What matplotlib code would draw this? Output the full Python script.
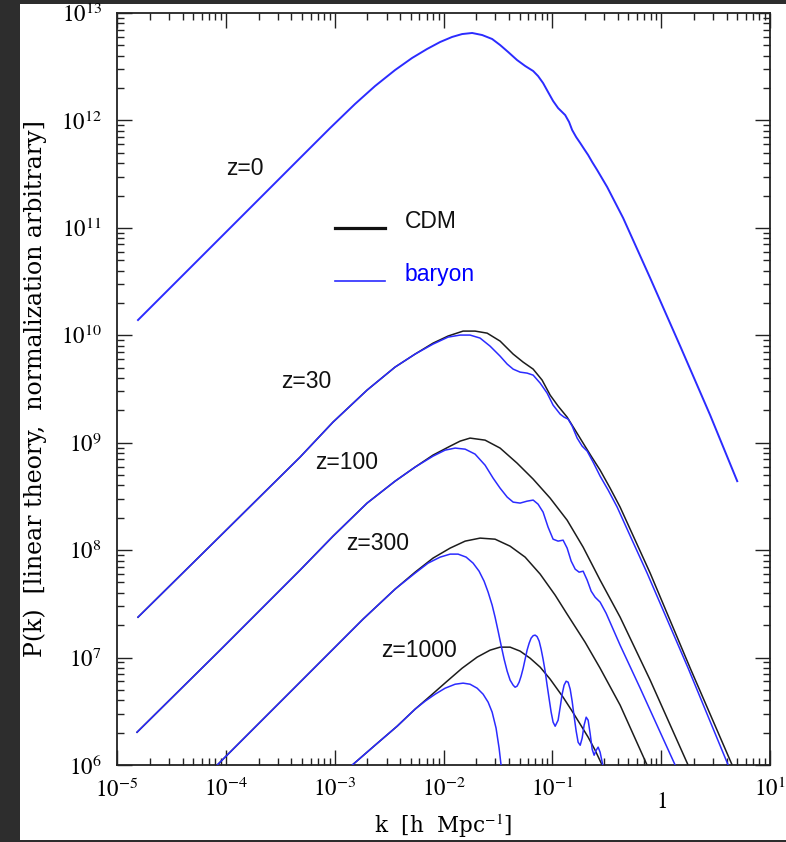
import numpy as np
import matplotlib
matplotlib.use("Agg")
import matplotlib.pyplot as plt
from matplotlib.lines import Line2D
from matplotlib.patches import Rectangle
import matplotlib.transforms as mtransforms
from matplotlib.ticker import LogLocator, NullFormatter

plt.rcParams["mathtext.fontset"] = "stix"

# ---------------- data (log10 k [h/Mpc], log10 P) ----------------
# z = 0 (CDM and baryon coincide)
z0_logk = [-4.807, -4.237, -3.686, -3.318, -3.042, -2.813, -2.629, -2.445, -2.289, -2.151,
           -2.031, -1.921, -1.829, -1.737, -1.645, -1.553, -1.480, -1.406, -1.324, -1.250,
           -1.176, -1.131, -1.085, -1.039, -0.993, -0.947, -0.882, -0.846, -0.818, -0.781,
           -0.744, -0.708, -0.671, -0.634, -0.588, -0.496, -0.349, -0.101, 0.175, 0.450, 0.699]
z0_logP = [10.142, 10.719, 11.277, 11.650, 11.929, 12.153, 12.320, 12.469, 12.581, 12.665,
           12.730, 12.777, 12.804, 12.814, 12.795, 12.758, 12.702, 12.637, 12.562, 12.507,
           12.460, 12.413, 12.348, 12.264, 12.181, 12.115, 12.050, 11.985, 11.911, 11.845,
           11.790, 11.734, 11.678, 11.613, 11.538, 11.380, 11.091, 10.533, 9.899, 9.257, 8.642]

# z = 30
z30_cdm_logk = [-4.807, -4.053, -3.318, -3.015, -2.702, -2.445, -2.261, -2.096, -1.958, -1.820,
                -1.710, -1.599, -1.480, -1.360, -1.268, -1.176, -1.094, -1.020, -0.947, -0.864,
                -0.790, -0.717, -0.643, -0.561, -0.469, -0.377, -0.239, -0.101, 0.267, 0.653, 0.772]
z30_cdm_logP = [7.376, 8.130, 8.866, 9.192, 9.490, 9.704, 9.825, 9.927, 9.993, 10.039,
                10.039, 10.020, 9.946, 9.825, 9.750, 9.685, 9.583, 9.443, 9.341, 9.238,
                9.117, 8.996, 8.875, 8.745, 8.577, 8.400, 8.093, 7.786, 6.901, 5.998, 5.719]
z30_bar_logk = [-4.807, -4.053, -3.318, -3.015, -2.702, -2.445, -2.261, -2.096, -1.958, -1.847,
                -1.756, -1.664, -1.572, -1.480, -1.415, -1.360, -1.296, -1.232, -1.176, -1.112,
                -1.048, -0.993, -0.928, -0.892, -0.855, -0.818, -0.772, -0.726, -0.680, -0.625,
                -0.561, -0.487, -0.404, -0.267, -0.129, 0.248, 0.616, 0.735]
z30_bar_logP = [7.376, 8.130, 8.866, 9.192, 9.490, 9.704, 9.825, 9.918, 9.983, 10.002,
                10.002, 9.974, 9.899, 9.806, 9.732, 9.685, 9.657, 9.648, 9.629, 9.555,
                9.462, 9.350, 9.266, 9.238, 9.220, 9.155, 9.043, 8.968, 8.922, 8.819,
                8.689, 8.559, 8.400, 8.093, 7.786, 6.901, 5.998, 5.719]

# z = 100
z100_cdm_logk = [-4.816, -4.053, -3.318, -3.015, -2.702, -2.445, -2.261, -2.096, -1.939, -1.847,
                 -1.756, -1.618, -1.480, -1.324, -1.176, -1.020, -0.864, -0.717, -0.561, -0.377,
                 -0.101, 0.248, 0.358]
z100_cdm_logP = [6.305, 7.069, 7.814, 8.130, 8.438, 8.642, 8.773, 8.885, 8.968, 9.015,
                 9.043, 9.024, 8.950, 8.810, 8.661, 8.484, 8.279, 8.028, 7.721, 7.376,
                 6.790, 5.998, 5.747]
z100_bar_logk = [-4.816, -4.053, -3.318, -3.015, -2.702, -2.445, -2.261, -2.096, -1.985, -1.893,
                 -1.801, -1.710, -1.618, -1.544, -1.480, -1.415, -1.360, -1.296, -1.232, -1.176,
                 -1.131, -1.085, -1.039, -0.993, -0.947, -0.901, -0.864, -0.827, -0.790, -0.754,
                 -0.717, -0.680, -0.643, -0.607, -0.561, -0.506, -0.377, -0.193, -0.009, 0.129,
                 0.248]
z100_bar_logP = [6.305, 7.069, 7.814, 8.130, 8.438, 8.642, 8.773, 8.875, 8.931, 8.950,
                 8.940, 8.894, 8.791, 8.670, 8.577, 8.494, 8.447, 8.438, 8.456, 8.466,
                 8.428, 8.354, 8.214, 8.102, 8.084, 8.093, 8.019, 7.898, 7.823, 7.795,
                 7.804, 7.721, 7.618, 7.562, 7.516, 7.413, 7.115, 6.715, 6.305, 5.998,
                 5.737]

# z = 300
z300_cdm_logk = [-4.191, -4.081, -3.318, -2.739, -2.445, -2.261, -2.096, -1.939, -1.801, -1.664,
                 -1.526, -1.388, -1.250, -1.112, -0.974, -0.864, -0.699, -0.561, -0.377, -0.129,
                 -0.009]
z300_cdm_logP = [5.886, 5.998, 6.771, 7.358, 7.637, 7.795, 7.926, 8.019, 8.084, 8.112,
                 8.102, 8.037, 7.935, 7.777, 7.581, 7.404, 7.143, 6.901, 6.557, 5.998,
                 5.737]
z300_bar_logk = [-4.191, -4.081, -3.318, -2.739, -2.445, -2.261, -2.142, -2.031, -1.939, -1.866,
                 -1.792, -1.728, -1.673, -1.627, -1.590,
                 -1.553, -1.526, -1.498, -1.471, -1.443, -1.415, -1.388, -1.360, -1.342, -1.324,
                 -1.305, -1.287, -1.268, -1.250, -1.232, -1.213, -1.195, -1.176, -1.158, -1.140,
                 -1.121, -1.103, -1.085, -1.066, -1.048, -1.029, -1.011, -0.993, -0.974, -0.947,
                 -0.928, -0.910, -0.892, -0.873, -0.855, -0.836, -0.818, -0.800, -0.781, -0.763,
                 -0.744, -0.726, -0.708, -0.689, -0.671, -0.653, -0.634, -0.616, -0.597, -0.579,
                 -0.561, -0.542, -0.524, -0.506]
z300_bar_logP = [5.886, 5.998, 6.771, 7.358, 7.637, 7.786, 7.879, 7.935, 7.963, 7.963,
                 7.935, 7.879, 7.804, 7.711, 7.609,
                 7.488, 7.376, 7.246, 7.115, 6.985, 6.873, 6.790, 6.743, 6.724, 6.734,
                 6.771, 6.827, 6.901, 6.985, 7.069, 7.134, 7.181, 7.204, 7.209, 7.195,
                 7.153, 7.078, 6.985, 6.873, 6.743, 6.613, 6.492, 6.399, 6.361, 6.417,
                 6.538, 6.659, 6.743, 6.780, 6.771, 6.706, 6.594, 6.454, 6.315, 6.212,
                 6.184, 6.250, 6.371, 6.445, 6.417, 6.296, 6.147, 6.091, 6.138, 6.166,
                 6.119, 6.026, 5.933, 5.840]

# z = 1000
z1000_cdm_logk = [-2.950, -2.840, -2.629, -2.426, -2.261, -2.123, -1.967, -1.829, -1.691, -1.572,
                  -1.480, -1.388, -1.296, -1.204, -1.112, -1.020, -0.901, -0.818, -0.744, -0.671,
                  -0.607, -0.542, -0.496]
z1000_cdm_logP = [5.886, 5.998, 6.184, 6.361, 6.520, 6.641, 6.780, 6.901, 7.004, 7.069,
                  7.097, 7.097, 7.060, 6.994, 6.911, 6.799, 6.631, 6.501, 6.380, 6.259,
                  6.138, 5.998, 5.886]
z1000_bar_logk = [-2.950, -2.840, -2.629, -2.426, -2.261, -2.169, -2.077, -1.985, -1.893, -1.820,
                  -1.756, -1.691, -1.636, -1.590, -1.553, -1.517, -1.489, -1.471, -1.452]
z1000_bar_logP = [5.886, 5.998, 6.184, 6.361, 6.520, 6.594, 6.659, 6.715, 6.752, 6.762,
                  6.752, 6.715, 6.659, 6.585, 6.492, 6.343, 6.156, 5.998, 5.812]

xtick_vals = [1e-5, 1e-4, 1e-3, 1e-2, 1e-1, 1, 10]
xtick_labels = ["$10^{-5}$", "$10^{-4}$", "$10^{-3}$", "$10^{-2}$", "$10^{-1}$", "$1$", "$10^{1}$"]
ytick_vals = [1e6, 1e7, 1e8, 1e9, 1e10, 1e11, 1e12, 1e13]
ytick_labels = ["$10^{6}$", "$10^{7}$", "$10^{8}$", "$10^{9}$", "$10^{10}$", "$10^{11}$",
                "$10^{12}$", "$10^{13}$"]

z_labels = ["z=0", "z=30", "z=100", "z=300", "z=1000"]
z_label_logk = [-3.824, -3.263, -2.886, -2.601, -2.224]
z_label_logP = [11.557, 9.574, 8.819, 8.065, 7.069]

CDM_COLOR = "#1c1c1c"
BAR_COLOR = "#2b2bff"

# ---------------- figure ----------------
W, H = 786, 842
fig = plt.figure(figsize=(W / 100, H / 100), dpi=100, facecolor="#2d2d2d")
fig.patches.append(Rectangle((20 / W, 2 / H), 1.0, (H - 6) / H, transform=fig.transFigure,
                             facecolor="white", edgecolor="none", zorder=-10))

x0, x1, y0, y1 = 117, 770, 13, 765
ax = fig.add_axes([x0 / W, (H - y1) / H, (x1 - x0) / W, (y1 - y0) / H])
ax.set_facecolor("white")
ax.set_xscale("log")
ax.set_yscale("log")
ax.set_xlim(1e-5, 10)
ax.set_ylim(1e6, 1e13)

def p(a):
    return 10 ** np.asarray(a)

pairs = [
    (z30_cdm_logk, z30_cdm_logP, z30_bar_logk, z30_bar_logP),
    (z100_cdm_logk, z100_cdm_logP, z100_bar_logk, z100_bar_logP),
    (z300_cdm_logk, z300_cdm_logP, z300_bar_logk, z300_bar_logP),
    (z1000_cdm_logk, z1000_cdm_logP, z1000_bar_logk, z1000_bar_logP),
]
for ck, cp, bk, bp in pairs:
    ax.plot(p(ck), p(cp), color=CDM_COLOR, lw=1.1, zorder=2, solid_joinstyle="round")
for ck, cp, bk, bp in pairs:
    ax.plot(p(bk), p(bp), color=BAR_COLOR, lw=1.1, zorder=3, solid_joinstyle="round")
ax.plot(p(z0_logk), p(z0_logP), color=BAR_COLOR, lw=1.4, zorder=3, solid_joinstyle="round")

# z labels
for lab, lk, lp in zip(z_labels, z_label_logk, z_label_logP):
    ax.text(10 ** lk, 10 ** lp, lab, ha="center", va="center", fontsize=16.5,
            family="Liberation Sans", color="#111111")

# legend (manual)
ax.add_line(Line2D([0.334, 0.410], [0.714, 0.714], transform=ax.transAxes,
                   color="#111111", lw=2.3))
ax.add_line(Line2D([0.334, 0.410], [0.644, 0.644], transform=ax.transAxes,
                   color=BAR_COLOR, lw=1.2))
ax.text(0.441, 0.714, "CDM", transform=ax.transAxes, ha="left", va="baseline",
        fontsize=16.5, family="Liberation Sans", color="#111111")
ax.text(0.441, 0.644, "baryon", transform=ax.transAxes, ha="left", va="baseline",
        fontsize=16.5, family="Liberation Sans", color="#0000ff")

# ticks
ax.xaxis.set_major_locator(LogLocator(base=10, numticks=100))
ax.yaxis.set_major_locator(LogLocator(base=10, numticks=100))
ax.xaxis.set_minor_locator(LogLocator(base=10, subs=np.arange(2, 10), numticks=100))
ax.yaxis.set_minor_locator(LogLocator(base=10, subs=np.arange(2, 10), numticks=100))
ax.xaxis.set_minor_formatter(NullFormatter())
ax.yaxis.set_minor_formatter(NullFormatter())
ax.set_yticks(ytick_vals)
ax.set_yticklabels(ytick_labels, fontsize=16.5)
ax.set_xticks(xtick_vals)
ax.set_xticklabels([])
ax.tick_params(which="both", direction="in", top=True, right=True, color="#222222")
ax.tick_params(which="major", length=10.5, width=1.0, pad=11)
ax.tick_params(which="minor", length=5, width=1.0)
for s in ax.spines.values():
    s.set_linewidth(1.3)
    s.set_color("#222222")

# x tick labels (drawn as text so "1" can sit lower, as in the original)
trans = mtransforms.blended_transform_factory(ax.transData, ax.transAxes)
for v, lab in zip(xtick_vals, xtick_labels):
    dy = -25 if lab == "$1$" else -13
    off = mtransforms.ScaledTranslation(0, dy / 100, fig.dpi_scale_trans)
    ax.text(v, 0, lab, transform=trans + off, ha="center", va="top", fontsize=16.5,
            clip_on=False)

ax.set_xlabel("k  [h  Mpc$^{-1}$]", family="DejaVu Serif", fontsize=15.5, va="center")
ax.xaxis.set_label_coords(0.5, -0.081)
ax.set_ylabel("P(k)  [linear theory,  normalization arbitrary]", family="DejaVu Serif",
              fontsize=17, va="center")
ax.yaxis.set_label_coords(-0.1256, 0.5)

fig.savefig("out.png", dpi=100, facecolor=fig.get_facecolor())
